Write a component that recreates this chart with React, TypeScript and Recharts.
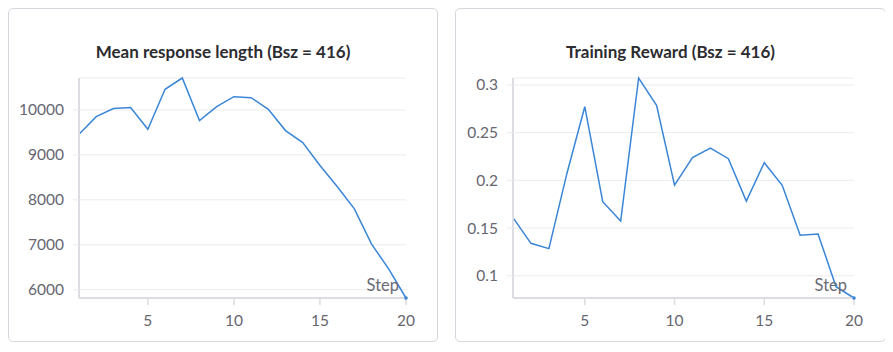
import React from 'react';
import { LineChart, Line, XAxis, YAxis, CartesianGrid } from 'recharts';

const steps = [1, 2, 3, 4, 5, 6, 7, 8, 9, 10, 11, 12, 13, 14, 15, 16, 17, 18, 19, 20];
const responseLength = [9460, 9851, 10030, 10052, 9570, 10459, 10711, 9763, 10074, 10296, 10274, 10015, 9541, 9274, 8763, 8296, 7800, 7015, 6459, 5815];
const trainingReward = [0.1609, 0.134, 0.1284, 0.207, 0.2772, 0.1777, 0.1573, 0.3073, 0.2786, 0.1951, 0.2238, 0.2339, 0.2227, 0.1783, 0.2185, 0.1948, 0.1424, 0.1437, 0.0885, 0.0767];
const xTicks = [5, 10, 15, 20];
const lengthTicks = [6000, 7000, 8000, 9000, 10000];
const rewardTicks = [0.1, 0.15, 0.2, 0.25, 0.3];

const lengthData = steps.map((s, i) => ({ step: s, value: responseLength[i] }));
const rewardData = steps.map((s, i) => ({ step: s, value: trainingReward[i] }));

const FONT = 'Lato, "Noto Sans", sans-serif';
const LINE = '#3a86d6';
const AXIS = '#dcdce2';
const GRID = '#ececf0';
const LABEL = '#666670';

const LastDot = (props: any) => {
  const { cx, cy, index } = props;
  if (index !== steps.length - 1) return <g key={index} />;
  return <circle key={index} cx={cx} cy={cy} r={1.8} fill={LINE} stroke="none" />;
};

function Panel(props: {
  title: string;
  data: { step: number; value: number }[];
  ticks: number[];
  yWidth: number;
  width: number;
  left: number;
  fmt: (v: number) => string;
}) {
  const { title, data, ticks, yWidth, width, left, fmt } = props;
  const innerW = width - 2;
  return (
    <div
      style={{
        position: 'absolute',
        left,
        top: 0,
        width,
        height: 334,
        boxSizing: 'border-box',
        border: '1px solid #d6d6dc',
        borderRadius: 5,
        background: '#fff',
      }}
    >
      <div
        style={{
          position: 'absolute',
          left: 0,
          top: 33,
          width: innerW,
          textAlign: 'center',
          fontFamily: FONT,
          fontWeight: 700,
          fontSize: 17,
          lineHeight: '20px',
          color: '#2c2c30',
        }}
      >
        {title}
      </div>
      <div style={{ position: 'absolute', left: 0, top: 0 }}>
        <LineChart
          width={innerW}
          height={332}
          data={data}
          margin={{ top: 69, right: 31, bottom: 13, left: 0 }}
        >
          <CartesianGrid vertical={false} stroke={GRID} strokeWidth={1} />
          <XAxis
            dataKey="step"
            type="number"
            domain={[1, 20]}
            ticks={xTicks}
            height={30}
            tickSize={7}
            tickMargin={10}
            axisLine={{ stroke: AXIS, strokeWidth: 2 }}
            tickLine={{ stroke: AXIS, strokeWidth: 1.5 }}
            tick={{ fill: LABEL, fontSize: 15.5, fontFamily: FONT }}
            allowDecimals={false}
          />
          <YAxis
            type="number"
            domain={['dataMin', 'dataMax']}
            ticks={ticks}
            width={yWidth}
            tickSize={6}
            tickMargin={9}
            axisLine={{ stroke: AXIS, strokeWidth: 2 }}
            tickLine={{ stroke: GRID, strokeWidth: 1 }}
            tick={{ fill: LABEL, fontSize: 15.5, fontFamily: FONT }}
            tickFormatter={fmt}
          />
          <Line
            type="linear"
            dataKey="value"
            stroke={LINE}
            strokeWidth={1.5}
            dot={LastDot}
            activeDot={false}
            isAnimationActive={false}
          />
        </LineChart>
      </div>
      <div
        style={{
          position: 'absolute',
          right: 38,
          top: 268,
          fontFamily: FONT,
          fontSize: 16.5,
          lineHeight: '16px',
          color: '#6a6a74',
          pointerEvents: 'none',
        }}
      >
        Step
      </div>
    </div>
  );
}

export default function App() {
  return (
    <div style={{ position: 'relative', width: 877, height: 336 }}>
      <Panel
        title="Mean response length (Bsz = 416)"
        data={lengthData}
        ticks={lengthTicks}
        yWidth={70}
        width={430}
        left={0}
        fmt={(v) => String(v)}
      />
      <Panel
        title="Training Reward (Bsz = 416)"
        data={rewardData}
        ticks={rewardTicks}
        yWidth={57}
        width={431}
        left={447}
        fmt={(v) => String(v)}
      />
    </div>
  );
}
